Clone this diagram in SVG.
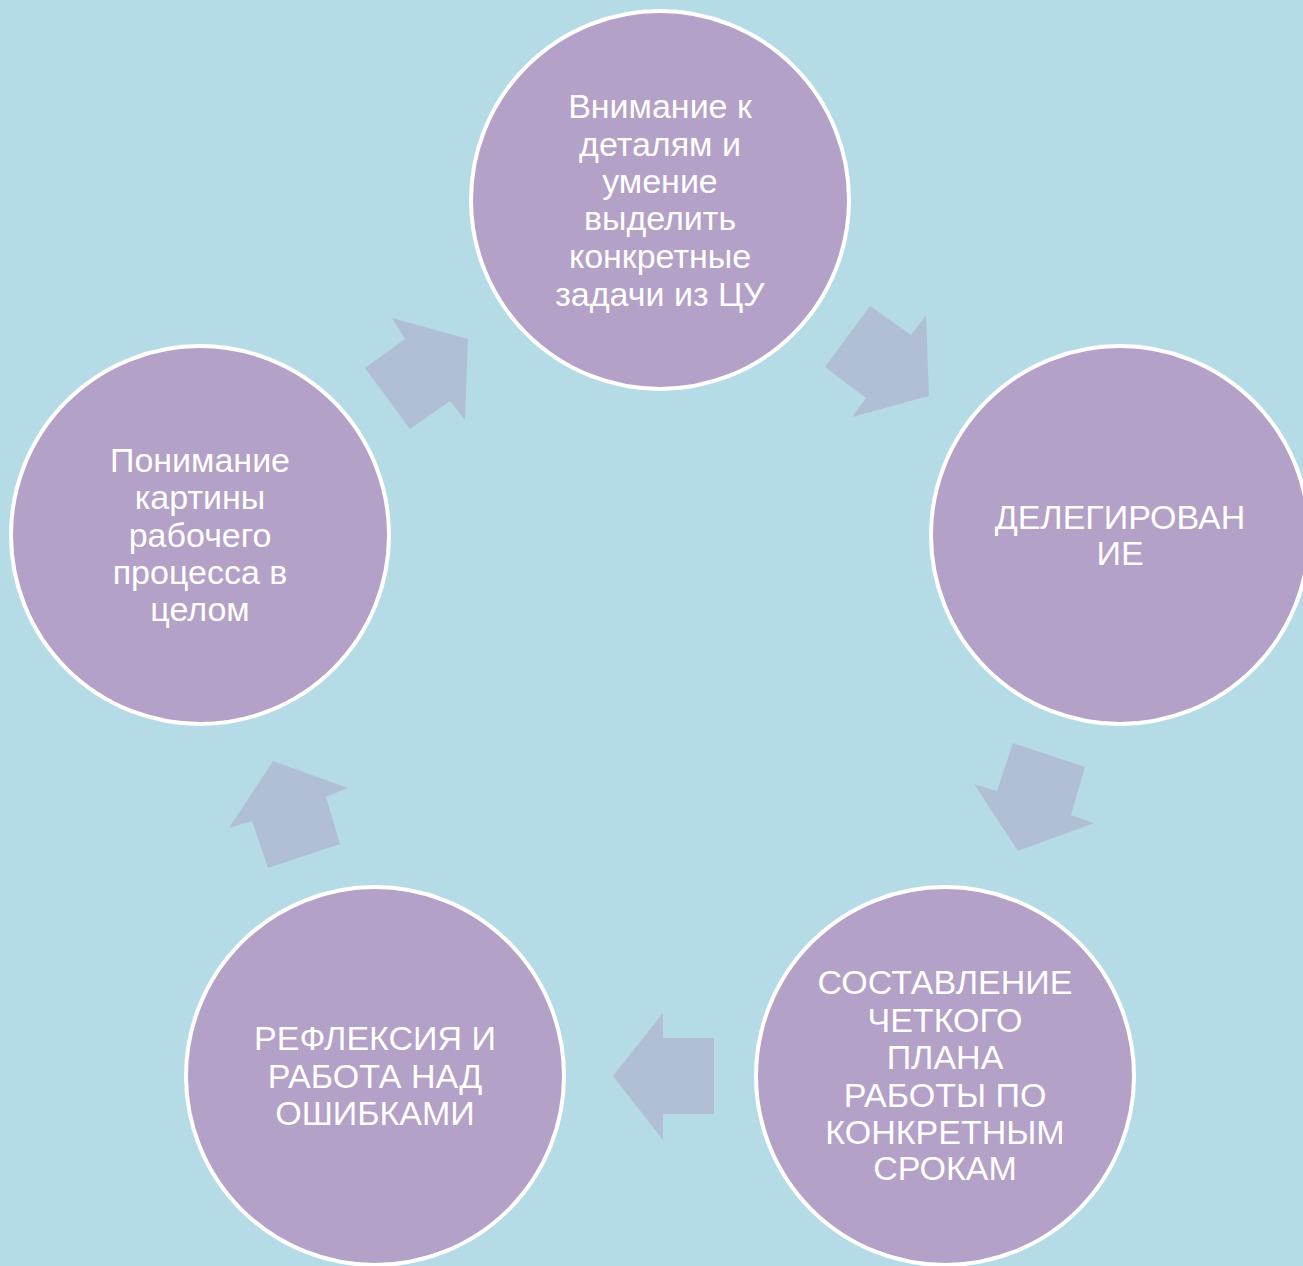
<svg xmlns="http://www.w3.org/2000/svg" width="1303" height="1266" viewBox="0 0 1303 1266">
<style>
.n{fill:#B3A1C7;stroke:#FFFFFF;stroke-width:4}
.t{font-family:"Liberation Sans",Arial,sans-serif;font-size:34px;fill:#FFFFFF;text-anchor:middle}
.a{fill:#B1BFD6}
</style>
<rect x="0" y="0" width="1303" height="1266" fill="#B5DCE6"/>
<g id="connectors">
<polygon class="a" points="392,318 405,339 365,368 410,429 450,401 465,420 468,339"/>
<polygon class="a" points="870,306 911,335 926,315 929,396 852,417 866,398 825,367"/>
<polygon class="a" points="1013,743 1085,767 1071,815 1094,823 1018,851 974,784 997,791"/>
<polygon class="a" points="663,1013 663,1038 714,1038 714,1114 663,1114 663,1140 613,1076"/>
<polygon class="a" points="273,761 348,788 326,797 340,844 268,868 252,821 229,828"/>
</g>
<g id="node1">
<circle class="n" cx="660" cy="200" r="189"/>
<text class="t"><tspan x="660" y="118">Внимание к</tspan><tspan x="660" y="156">деталям и</tspan><tspan x="660" y="193">умение</tspan><tspan x="660" y="230">выделить</tspan><tspan x="660" y="268">конкретные</tspan><tspan x="660" y="306">задачи из ЦУ</tspan></text>
</g>
<g id="node2">
<circle class="n" cx="1120" cy="535" r="189"/>
<text class="t"><tspan x="1120" y="529">ДЕЛЕГИРОВАН</tspan><tspan x="1120" y="565">ИЕ</tspan></text>
</g>
<g id="node3">
<circle class="n" cx="945" cy="1076" r="189"/>
<text class="t"><tspan x="945" y="994">СОСТАВЛЕНИЕ</tspan><tspan x="945" y="1032">ЧЕТКОГО</tspan><tspan x="945" y="1069">ПЛАНА</tspan><tspan x="945" y="1107">РАБОТЫ ПО</tspan><tspan x="945" y="1144">КОНКРЕТНЫМ</tspan><tspan x="945" y="1180">СРОКАМ</tspan></text>
</g>
<g id="node4">
<circle class="n" cx="375" cy="1076" r="189"/>
<text class="t"><tspan x="375" y="1050">РЕФЛЕКСИЯ И</tspan><tspan x="375" y="1088">РАБОТА НАД</tspan><tspan x="375" y="1125">ОШИБКАМИ</tspan></text>
</g>
<g id="node5">
<circle class="n" cx="200" cy="535" r="189"/>
<text class="t"><tspan x="200" y="472">Понимание</tspan><tspan x="200" y="509">картины</tspan><tspan x="200" y="547">рабочего</tspan><tspan x="200" y="584">процесса в</tspan><tspan x="200" y="621">целом</tspan></text>
</g>
</svg>
